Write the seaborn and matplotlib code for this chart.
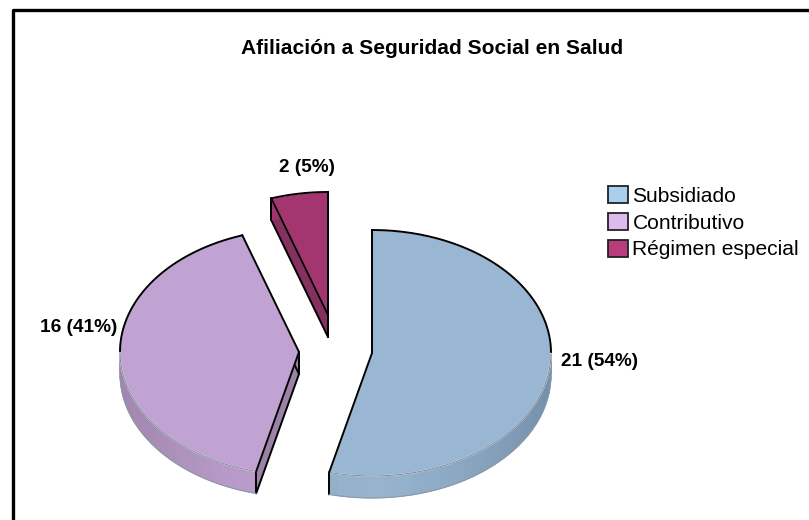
import numpy as np
import matplotlib.pyplot as plt
from matplotlib.patches import Patch
import seaborn as sns

categories = ["Subsidiado", "Contributivo", "Régimen especial"]
counts = [21, 16, 2]
labels = ["21 (54%)", "16 (41%)", "2 (5%)"]
top_colors = ["#99b7d2", "#c1a3d3", "#a33670"]
legend_colors = ["#a9cfee", "#ddb9ee", "#b93c7d"]
cut_colors = ["#7f9ab3", "#9c82a6", "#85305f"]
rim_dark = ["#7590aa", "#a085ad", "#85305f"]
rim_light = ["#96b4ce", "#bea0cf", "#a33670"]

W, H = 809, 520
RX, RY, DEPTH = 179, 123, 22
# where each slice's tip sits, in pixels
tips = [(372, 353), (299, 352), (328, 315)]
label_pos = [(599.5, 362), (79, 327), (307, 167)]


def to_data(x, y):
    return x / RX, (H - y) / RY


sns.set_theme(style="white")
plt.rcParams["font.family"] = ["Liberation Sans", "DejaVu Sans"]

fig = plt.figure(figsize=(W / 100, H / 100), dpi=100)
ax = fig.add_axes([0, 0, 1, 1])

wedges, _ = ax.pie(counts, colors=top_colors, startangle=90, counterclock=False)
ax.set_aspect("auto")
ax.set_xlim(0, W / RX)
ax.set_ylim(0, H / RY)
ax.axis("off")

dz = DEPTH / RY
for i, w in enumerate(wedges):
    c = to_data(*tips[i])
    w.set_center(c)
    w.set_zorder(5)
    t1, t2 = np.radians(w.theta1), np.radians(w.theta2)

    # the two cut faces, hidden by the top face where they face away
    for t in (t1, t2):
        ex, ey = c[0] + np.cos(t), c[1] + np.sin(t)
        ax.fill([c[0], ex, ex, c[0]], [c[1], ey, ey - dz, c[1] - dz],
                color=cut_colors[i], lw=0, zorder=2)
        ax.plot([c[0], ex], [c[1] - dz, ey - dz], color="black", lw=1.4, zorder=2.5)
        ax.plot([ex, ex], [ey, ey - dz], color="black", lw=1.4, zorder=4)

    # rim, in strips that get darker towards the right or left edge
    edges = np.linspace(t1, t2, int((t2 - t1) / np.radians(3)) + 2)
    for a, b in zip(edges[:-1], edges[1:]):
        xs = c[0] + np.cos([a, b])
        ys = c[1] + np.sin([a, b])
        k = abs(np.cos((a + b) / 2)) ** 1.5
        col = np.array(sns.color_palette([rim_light[i], rim_dark[i]]))
        col = col[0] * (1 - k) + col[1] * k
        ax.fill([xs[0], xs[1], xs[1], xs[0]],
                [ys[0], ys[1], ys[1] - dz, ys[0] - dz],
                color=col, ec=col, lw=0.6, zorder=3)

    # soft line round the front, black round the back and along the cuts
    arc = np.linspace(t1, t2, 200)
    ax_x, ax_y = c[0] + np.cos(arc), c[1] + np.sin(arc)
    back = np.sin(arc) >= 0
    ax.plot(np.where(back, np.nan, ax_x), ax_y, color="#7f8ea0", lw=0.8, zorder=6)
    ax.plot(np.where(back, ax_x, np.nan), ax_y, color="black", lw=1.4, zorder=6)
    low = np.sin(arc) < 0
    ax.plot(np.where(low, ax_x, np.nan), np.where(low, ax_y - dz, np.nan),
            color="#8a98a8", lw=0.8, zorder=6)
    for t in (t1, t2):
        ax.plot([c[0], c[0] + np.cos(t)], [c[1], c[1] + np.sin(t)],
                color="black", lw=1.4, zorder=6)
    ax.plot([c[0], c[0]], [c[1], c[1] - dz], color="black", lw=1.4, zorder=2.5)
    ax.text(label_pos[i][0] / W, 1 - label_pos[i][1] / H, labels[i],
            transform=ax.transAxes, ha="center", va="center",
            fontsize=13.7, fontweight="bold", color="black", zorder=7)

ax.text(432 / W, 1 - 49 / H, "Afiliación a Seguridad Social en Salud",
        transform=ax.transAxes, ha="center", va="center",
        fontsize=15.1, fontweight="bold", color="black")

handles = [Patch(facecolor=c, edgecolor="#222222", lw=1.3) for c in legend_colors]
leg = ax.legend(handles, categories, loc="upper left",
                bbox_to_anchor=(602 / W, 1 - 179.5 / H), frameon=False,
                fontsize=15.1, labelcolor="black", handlelength=0.95, handleheight=0.9,
                handletextpad=0.2, labelspacing=0.33, borderpad=0.3,
                borderaxespad=0)
leg.set_zorder(8)

# chart frame
ax.plot(*zip(to_data(12.5, H), to_data(12.5, 10), to_data(W, 10)),
        color="black", lw=2.4, clip_on=False, zorder=9)

fig.savefig("out.png", dpi=100)
